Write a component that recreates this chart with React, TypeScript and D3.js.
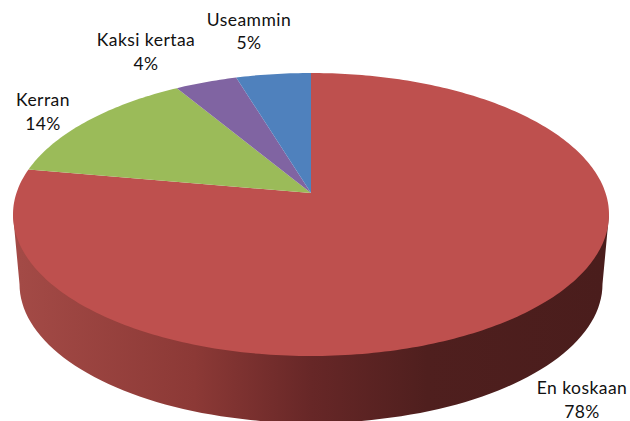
import React from "react";
import * as d3 from "d3";

const categories = ["En koskaan", "Kerran", "Kaksi kertaa", "Useammin"];
const shares = [77.8, 13.6, 3.9, 4.7];
const sliceColors = ["#BE504E", "#9BBB59", "#8064A2", "#4F81BD"];
const labelCentres: [number, number][] = [[582, 394], [43, 106], [146, 46], [249, 25.5]];
const wallStops: [number, string][] = [
  [0, "#A34A46"], [0.3, "#8C3936"], [0.5, "#672727"], [0.7, "#4F1F1E"], [1, "#4A1D1C"],
];

const W = 630, H = 421;
const CX = 311, CY = 214.5, RX = 298, RY = 141.5;
const APEX_Y = 193;
const BOTTOM = { cx: 311, cy: 284, rx: 291.5, ry: 139 };

// Perspective: unit disc is mapped to itself with its centre sent to the apex
const d = (APEX_Y - CY) / RY;
const project = (a: number): [number, number] => {
  const u = Math.sin(a), v = -Math.cos(a);
  const k = 1 + d * v;
  return [CX + (RX * u * Math.sqrt(1 - d * d)) / k, CY + (RY * (v + d)) / k];
};

export default function App() {
  const arcs = d3.pie<number>().sort(null)(shares);
  const line = d3.line();
  const slicePath = (s: d3.PieArcDatum<number>) => {
    const n = Math.max(2, Math.ceil((s.endAngle - s.startAngle) * 60));
    const rim = d3.range(n + 1).map((i) => project(d3.interpolateNumber(s.startAngle, s.endAngle)(i / n)));
    return line([[CX, APEX_Y], ...rim]) + "Z";
  };
  const wallAngles = d3.range(0, 181, 2).map((t) => (t * Math.PI) / 180);
  const wall =
    line([
      [CX + RX, CY],
      ...wallAngles.map((t): [number, number] => [BOTTOM.cx + BOTTOM.rx * Math.cos(t), BOTTOM.cy + BOTTOM.ry * Math.sin(t)]),
      [CX - RX, CY],
    ]) + "Z";

  return (
    <svg width={W} height={H} viewBox={`0 0 ${W} ${H}`} style={{ position: "absolute", left: 0, top: 0, background: "#fff" }}>
      <defs>
        <linearGradient id="wall" gradientUnits="userSpaceOnUse" x1={20} x2={602} y1={0} y2={0}>
          {wallStops.map(([o, c]) => <stop key={o} offset={o} stopColor={c} />)}
        </linearGradient>
      </defs>
      <path d={wall} fill="url(#wall)" />
      {arcs.map((s, i) => <path key={categories[i]} d={slicePath(s)} fill={sliceColors[i]} />)}
      {categories.map((c, i) => (
        <text key={c} y={labelCentres[i][1]} textAnchor="middle"
          fontFamily="Lato, 'Open Sans', sans-serif" fontSize={17.5} letterSpacing={0.45} fill="#111">
          <tspan x={labelCentres[i][0]}>{c}</tspan>
          <tspan x={labelCentres[i][0]} dy={23.5}>{Math.round(shares[i])}%</tspan>
        </text>
      ))}
    </svg>
  );
}
